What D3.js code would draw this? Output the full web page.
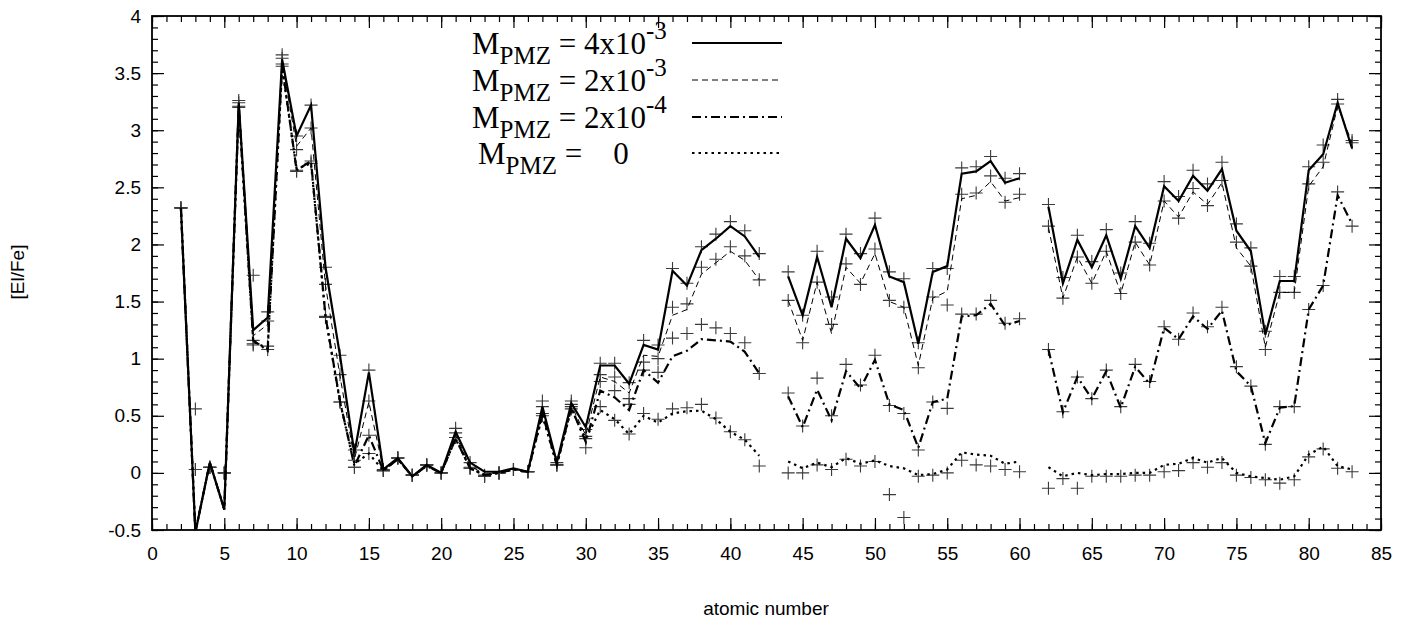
<!DOCTYPE html>
<html><head><meta charset="utf-8">
<script src="https://cdnjs.cloudflare.com/ajax/libs/d3/7.8.5/d3.min.js"></script>
<style>body{margin:0;background:#fff}svg{display:block}</style>
</head><body>
<script>
// Atomic numbers (categories)
const Z = [2,3,4,5,6,7,8,9,10,11,
  12,13,14,15,16,17,18,19,20,21,
  22,23,24,25,26,27,28,29,30,31,
  32,33,34,35,36,37,38,39,40,41,
  42,43,44,45,46,47,48,49,50,51,
  52,53,54,55,56,57,58,59,60,61,
  62,63,64,65,66,67,68,69,70,71,
  72,73,74,75,76,77,78,79,80,81,
  82,83];

// Line series [El/Fe]
const line4e3 = [2.32,-0.52,0.09,-0.32,3.24,1.25,1.36,3.62,2.95,3.22,
  1.8,1.03,0.17,0.88,0.03,0.13,-0.03,0.07,0.0,0.36,
  0.09,0.01,0.01,0.04,0.01,0.58,0.09,0.61,0.4,0.94,
  0.94,0.78,1.12,1.08,1.77,1.64,1.95,2.05,2.16,2.07,
  1.89,null,1.72,1.38,1.89,1.45,2.05,1.88,2.17,1.72,
  1.67,1.13,1.76,1.81,2.62,2.64,2.73,2.54,2.58,null,
  2.33,1.66,2.04,1.8,2.08,1.7,2.16,1.97,2.51,2.38,
  2.6,2.47,2.66,2.12,1.94,1.21,1.68,1.68,2.65,2.79,
  3.24,2.84];
const line2e3 = [2.32,-0.52,0.09,-0.32,3.23,1.2,1.3,3.6,2.86,3.02,
  1.64,0.85,0.12,0.62,0.03,0.13,-0.03,0.06,0.0,0.33,
  0.06,-0.01,0.0,0.03,0.01,0.55,0.08,0.59,0.33,0.84,
  0.8,0.7,1.03,1.02,1.38,1.43,1.74,1.84,1.94,1.86,
  1.69,null,1.51,1.16,1.67,1.22,1.8,1.66,1.92,1.5,
  1.45,0.94,1.53,1.59,2.4,2.43,2.55,2.38,2.41,null,
  2.15,1.53,1.89,1.66,1.94,1.57,2.02,1.82,2.38,2.24,
  2.46,2.35,2.54,1.97,1.81,1.1,1.58,1.58,2.51,2.68,
  3.21,2.89];
const line2e4 = [2.32,-0.52,0.09,-0.32,3.22,1.16,1.07,3.57,2.65,2.73,
  1.37,0.63,0.06,0.33,0.02,0.12,-0.03,0.06,0.0,0.3,
  0.04,-0.02,0.0,0.03,0.01,0.52,0.07,0.57,0.27,0.72,
  0.66,0.55,0.9,0.79,1.02,1.07,1.17,1.16,1.15,1.06,
  0.87,null,0.67,0.4,0.73,0.46,0.89,0.74,0.99,0.6,
  0.55,0.22,0.62,0.65,1.37,1.38,1.48,1.29,1.33,null,
  1.08,0.53,0.84,0.65,0.89,0.57,0.93,0.78,1.27,1.17,
  1.37,1.26,1.42,0.89,0.76,0.26,0.57,0.585,1.43,1.64,
  2.43,2.18];
const line0 = [2.32,-0.52,0.09,-0.32,3.21,1.15,1.09,3.55,2.66,2.71,
  1.37,0.62,0.08,0.17,0.02,0.12,-0.03,0.06,0.0,0.3,
  0.04,-0.02,0.0,0.03,0.01,0.5,0.07,0.56,0.3,0.55,
  0.47,0.34,0.5,0.44,0.52,0.54,0.545,0.47,0.36,0.29,
  0.15,null,0.1,0.04,0.09,0.05,0.13,0.08,0.11,0.06,
  0.04,-0.02,-0.01,0.03,0.18,0.16,0.15,0.08,0.1,null,
  0.05,-0.03,0.0,-0.02,-0.01,-0.01,0.0,0.0,0.07,0.08,
  0.13,0.09,0.13,0.0,-0.03,-0.045,-0.06,-0.03,0.16,0.23,
  0.06,0.03];

// Point series (+ markers)
const pts1 = [2.32,0.56,0.05,0.0,3.26,1.73,1.41,3.66,2.95,3.22,
  1.8,1.03,0.2,0.9,0.03,0.13,-0.02,0.07,0.0,0.39,
  0.09,-0.02,0.0,0.03,0.01,0.63,0.09,0.63,0.38,0.96,
  0.96,0.79,1.16,1.12,1.79,1.66,1.98,2.09,2.2,2.12,
  1.92,null,1.76,1.38,1.94,1.54,2.09,1.92,2.23,1.76,
  1.7,1.14,1.79,1.79,2.67,2.68,2.77,2.58,2.62,null,
  2.35,1.71,2.08,1.85,2.13,1.75,2.2,2.01,2.55,2.42,
  2.65,2.53,2.72,2.18,1.97,1.24,1.72,1.72,2.68,2.87,
  3.27,2.91];
const pts2 = [2.32,0.03,0.05,0.0,3.24,1.16,1.33,3.63,2.83,3.02,
  1.65,0.86,0.11,0.63,0.02,0.13,-0.02,0.07,0.0,0.35,
  0.05,-0.03,0.0,0.03,0.01,0.58,0.07,0.6,0.32,0.86,
  0.84,0.65,0.97,1.0,1.45,1.48,1.8,1.87,1.98,1.9,
  1.69,null,1.51,1.14,1.67,1.3,1.83,1.65,1.96,1.51,
  1.45,0.92,1.54,1.47,2.44,2.45,2.6,2.37,2.44,null,
  2.16,1.53,1.89,1.66,1.94,1.57,2.02,1.82,2.38,2.23,
  2.49,2.34,2.56,2.02,1.81,1.08,1.58,1.58,2.53,2.72,
  3.23,2.89];
const pts3 = [2.32,0.03,0.05,0.0,3.21,1.13,1.11,3.58,2.65,2.73,
  1.37,0.62,0.05,0.33,0.02,0.13,-0.02,0.07,0.0,0.31,
  0.04,-0.03,0.0,0.03,0.01,0.52,0.07,0.58,0.3,0.8,
  0.72,0.6,0.9,0.88,1.18,1.22,1.3,1.27,1.22,1.14,
  0.87,null,0.7,0.41,0.83,0.5,0.95,0.77,1.03,0.59,
  0.52,0.2,0.62,0.565,1.39,1.39,1.51,1.31,1.35,null,
  1.08,0.535,0.84,0.65,0.9,0.58,0.95,0.8,1.28,1.17,
  1.4,1.28,1.45,0.93,0.76,0.25,0.58,0.58,1.43,1.64,
  2.46,2.16];
const pts4 = [2.32,-0.6,0.05,0.0,3.2,1.12,1.08,3.56,2.64,2.71,
  1.36,0.62,0.05,0.17,0.02,0.13,-0.02,0.07,0.0,0.31,
  0.04,-0.03,0.0,0.03,0.01,0.5,0.07,0.56,0.22,0.58,
  0.46,0.34,0.52,0.47,0.56,0.57,0.6,0.48,0.36,0.29,
  0.06,null,0.0,0.0,0.07,0.03,0.12,0.06,0.1,-0.19,
  -0.39,-0.03,-0.02,0.0,0.11,0.07,0.06,0.03,0.01,null,
  -0.135,-0.05,-0.135,-0.03,-0.03,-0.03,-0.02,-0.02,0.01,0.02,
  0.09,0.05,0.09,-0.02,-0.04,-0.06,-0.09,-0.06,0.14,0.21,
  0.04,0.01];

const xTicks = [0,5,10,15,20,25,30,35,40,45,50,55,60,65,70,75,80,85];
const yTicks = [-0.5,0,0.5,1,1.5,2,2.5,3,3.5,4];
const legendMant = ["4x10","2x10","2x10","   0"];
const legendExp = ["-3","-3","-4",""];

const W = 1428, H = 628;
const m = {l:152, r:1381, t:16, b:530};
const svg = d3.select("body").append("svg").attr("width",W).attr("height",H)
  .style("font-family","'Liberation Sans', Arial, sans-serif");

const x = d3.scaleLinear().domain([0,85]).range([m.l,m.r]);
const y = d3.scaleLinear().domain([-0.5,4]).range([m.b,m.t]);

svg.append("defs").append("clipPath").attr("id","clip")
  .append("rect").attr("x",m.l).attr("y",m.t).attr("width",m.r-m.l).attr("height",m.b-m.t);

const fmt = d => String(d);
function styleAxis(g){ g.select(".domain").remove(); g.selectAll("line").attr("stroke","#000").attr("stroke-width",1.2);
  g.selectAll("text").attr("fill","#000").style("font-size","19px").style("font-family","'Liberation Sans', Arial, sans-serif"); }

const minorX = d3.range(0,86,1), minorY = d3.range(-5,41,1).map(v=>v/10);
// bottom
svg.append("g").attr("transform",`translate(0,${m.b})`).call(d3.axisBottom(x).tickValues(minorX).tickSize(-6).tickFormat("")).call(styleAxis);
svg.append("g").attr("transform",`translate(0,${m.b})`).call(d3.axisBottom(x).tickValues(xTicks).tickSize(-12).tickPadding(17).tickFormat(fmt)).call(styleAxis);
// top
svg.append("g").attr("transform",`translate(0,${m.t})`).call(d3.axisTop(x).tickValues(minorX).tickSize(-6).tickFormat("")).call(styleAxis);
svg.append("g").attr("transform",`translate(0,${m.t})`).call(d3.axisTop(x).tickValues(xTicks).tickSize(-12).tickFormat("")).call(styleAxis);
// left
svg.append("g").attr("transform",`translate(${m.l},0)`).call(d3.axisLeft(y).tickValues(minorY).tickSize(-6).tickFormat("")).call(styleAxis);
svg.append("g").attr("transform",`translate(${m.l},0)`).call(d3.axisLeft(y).tickValues(yTicks).tickSize(-12).tickPadding(11).tickFormat(fmt)).call(styleAxis);
// right
svg.append("g").attr("transform",`translate(${m.r},0)`).call(d3.axisRight(y).tickValues(minorY).tickSize(-6).tickFormat("")).call(styleAxis);
svg.append("g").attr("transform",`translate(${m.r},0)`).call(d3.axisRight(y).tickValues(yTicks).tickSize(-12).tickFormat("")).call(styleAxis);

svg.append("rect").attr("x",m.l).attr("y",m.t).attr("width",m.r-m.l).attr("height",m.b-m.t)
  .attr("fill","none").attr("stroke","#000").attr("stroke-width",1.8);

const plot = svg.append("g").attr("clip-path","url(#clip)");

// points
const plus = "M-6.5,0H6.5M0,-6.5V6.5";
[pts1,pts2,pts3,pts4].forEach(arr=>{
  plot.append("g").selectAll("path").data(Z.map((z,i)=>[z,arr[i]]).filter(d=>d[1]!==null))
    .join("path").attr("d",plus)
    .attr("transform",d=>`translate(${x(d[0])},${y(d[1])})`)
    .attr("stroke","#3a3a3a").attr("stroke-width",1.1).attr("fill","none");
});

const styles = [
  {w:2.2, dash:null},
  {w:1.0, dash:"6,4"},
  {w:2.2, dash:"9,4,2,4"},
  {w:2.2, dash:"2.5,4"}
];
const series = [line4e3,line2e3,line2e4,line0];
const lineGen = d3.line().defined(d=>d[1]!==null).x(d=>x(d[0])).y(d=>y(d[1]));
series.forEach((arr,k)=>{
  plot.append("path").datum(Z.map((z,i)=>[z,arr[i]]))
    .attr("d",lineGen).attr("fill","none").attr("stroke","#000")
    .attr("stroke-width",styles[k].w).attr("stroke-dasharray",styles[k].dash)
    .attr("stroke-linejoin","miter");
});

// legend
const serif = "'Liberation Serif','Times New Roman',serif";
const legY = [43,80,117,153];
legY.forEach((ly,k)=>{
  const t = svg.append("text").attr("x", k===3?478:472).attr("y",ly+11)
    .style("font-family",serif).style("font-size","31px").attr("fill","#000")
    .attr("xml:space","preserve").style("white-space","pre");
  t.append("tspan").text("M");
  t.append("tspan").attr("dy",10).style("font-size","25px").text("PMZ");
  t.append("tspan").attr("dy",-10).text(" = " + legendMant[k]);
  if(legendExp[k]) t.append("tspan").attr("dy",-15).style("font-size","25px").text(legendExp[k]);
  svg.append("line").attr("x1",692).attr("x2",782).attr("y1",ly).attr("y2",ly)
    .attr("stroke","#000").attr("stroke-width",styles[k].w).attr("stroke-dasharray",styles[k].dash);
});

// axis titles
svg.append("text").attr("transform","translate(24,272) rotate(-90)").attr("text-anchor","middle")
  .style("font-size","19px").text("[El/Fe]");
svg.append("text").attr("x",766).attr("y",615).attr("text-anchor","middle")
  .style("font-size","19px").text("atomic number");
</script>
</body></html>
